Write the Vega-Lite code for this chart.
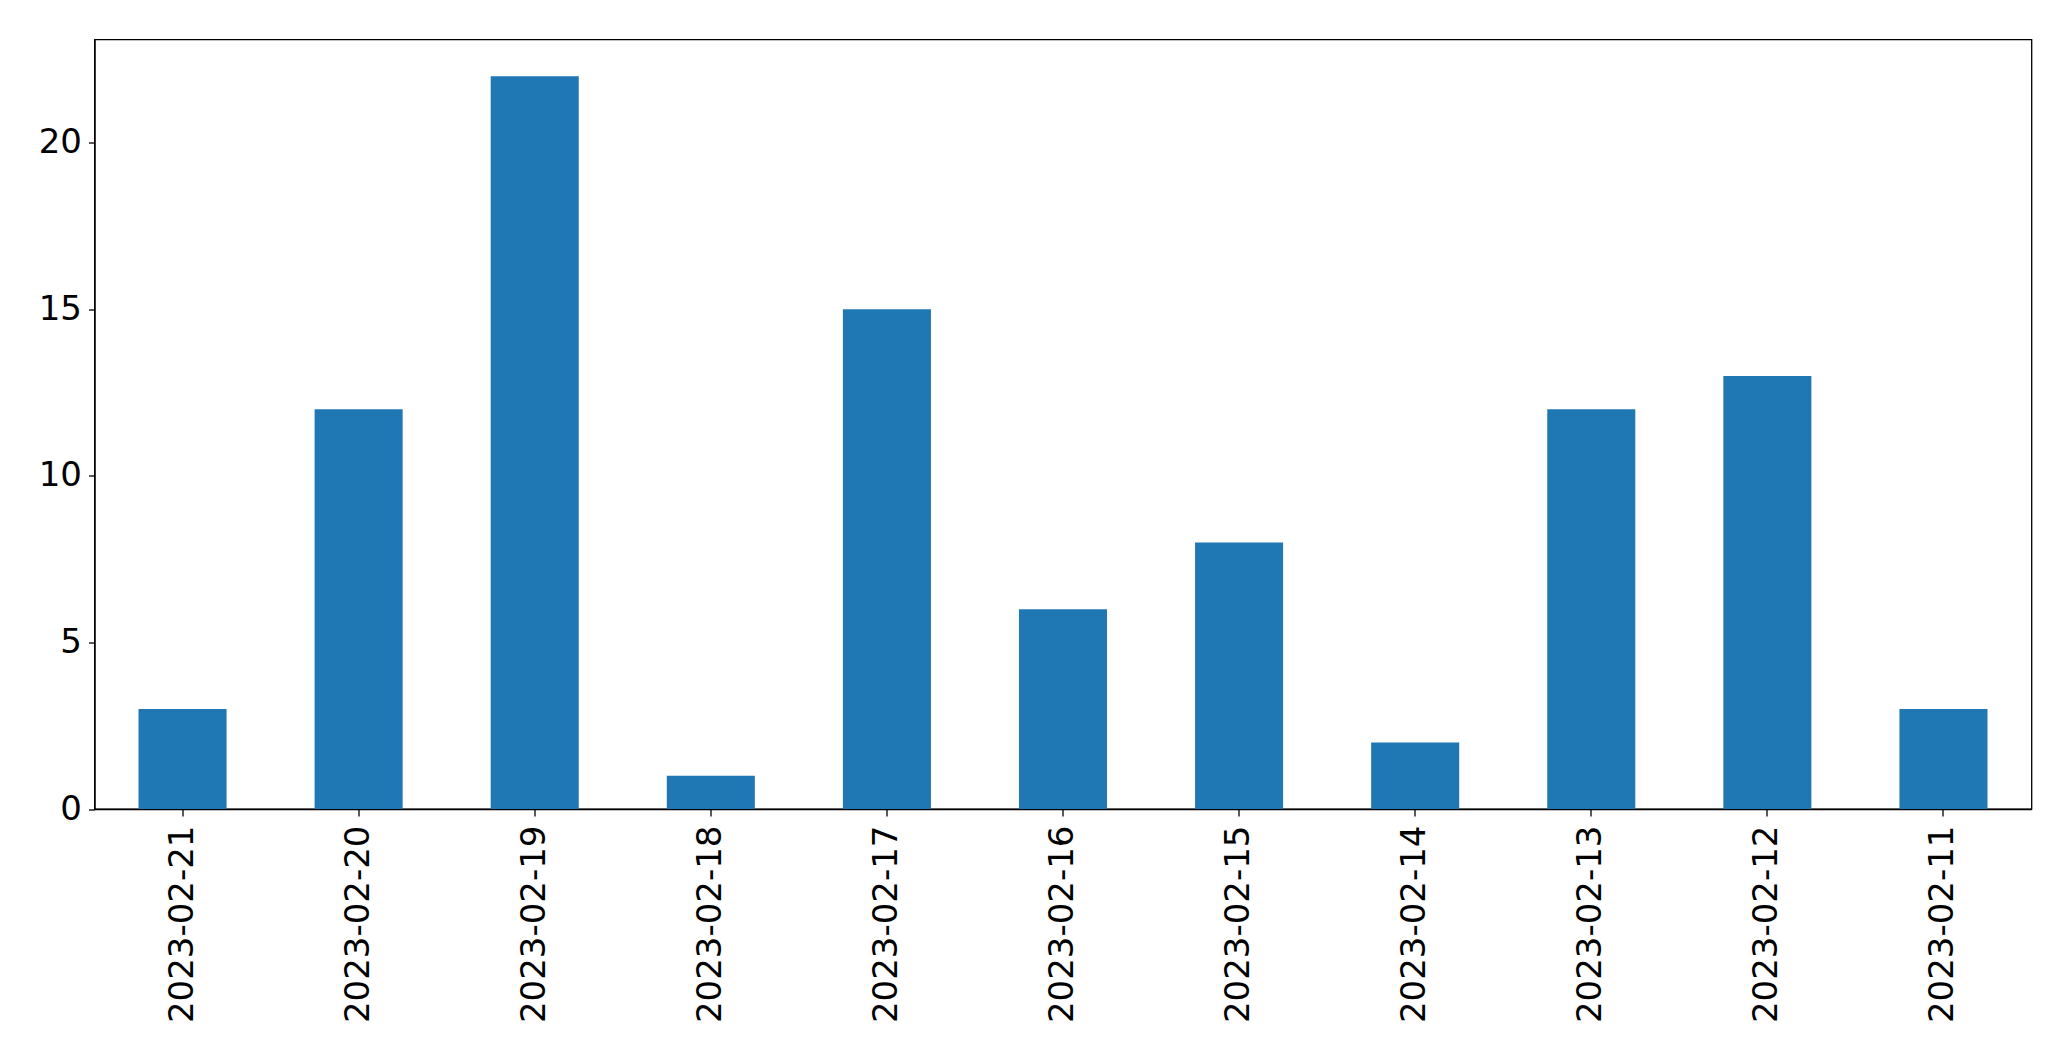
{
  "$schema": "https://vega.github.io/schema/vega-lite/v6.json",
  "autosize": "none",
  "width": 1937,
  "height": 769.5,
  "padding": {"left": 94.5, "top": 39.5, "right": 39.5, "bottom": 252},
  "background": "white",
  "data": {
    "values": [
      {"date": "2023-02-21", "count": 3},
      {"date": "2023-02-20", "count": 12},
      {"date": "2023-02-19", "count": 22},
      {"date": "2023-02-18", "count": 1},
      {"date": "2023-02-17", "count": 15},
      {"date": "2023-02-16", "count": 6},
      {"date": "2023-02-15", "count": 8},
      {"date": "2023-02-14", "count": 2},
      {"date": "2023-02-13", "count": 12},
      {"date": "2023-02-12", "count": 13},
      {"date": "2023-02-11", "count": 3}
    ]
  },
  "mark": {"type": "bar", "color": "#1f77b4"},
  "encoding": {
    "x": {
      "field": "date",
      "type": "nominal",
      "sort": null,
      "scale": {"paddingInner": 0.5, "paddingOuter": 0.25},
      "axis": {
        "title": null,
        "labelAngle": -90,
        "labelFont": "DejaVu Sans",
        "labelFontSize": 34,
        "labelColor": "black",
        "labelLimit": 0,
        "labelPadding": 9,
        "tickSize": 7,
        "tickColor": "black",
        "tickWidth": 1.3,
        "domainColor": "black",
        "domainWidth": 1.3,
        "grid": false
      }
    },
    "y": {
      "field": "count",
      "type": "quantitative",
      "scale": {"domain": [0, 23.1], "nice": false, "zero": true},
      "axis": {
        "title": null,
        "values": [0, 5, 10, 15, 20],
        "labelFont": "DejaVu Sans",
        "labelFontSize": 34,
        "labelColor": "black",
        "labelPadding": 7,
        "tickSize": 6,
        "tickColor": "black",
        "tickWidth": 1.3,
        "domainColor": "black",
        "domainWidth": 1.3,
        "grid": false
      }
    }
  },
  "config": {
    "view": {"stroke": "black", "strokeWidth": 1.3}
  }
}
